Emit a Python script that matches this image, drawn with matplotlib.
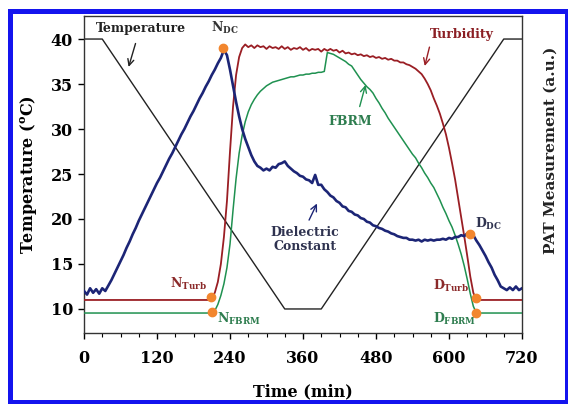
import numpy as np
import matplotlib
matplotlib.use("Agg")
import matplotlib.pyplot as plt
from matplotlib.patches import Rectangle

plt.rcParams['font.family'] = ['DejaVu Serif']
plt.rcParams['font.weight'] = 'bold'
plt.rcParams['mathtext.fontset'] = 'custom'
plt.rcParams['mathtext.bf'] = 'DejaVu Serif:bold'
plt.rcParams['mathtext.rm'] = 'DejaVu Serif:bold'
plt.rcParams['mathtext.it'] = 'DejaVu Serif:bold:italic'

# ---------------- data ----------------
temp_time = [0, 30, 330, 390, 690, 720]
temp_vals = [40, 40, 10, 10, 40, 40]

step = 5  # sampling step of the PAT signals (min)

dc_vals = [
    12.0, 11.6, 12.3, 11.8, 12.2, 11.7, 12.3, 12.0, 12.6, 13.2,
    13.9, 14.6, 15.3, 16.0, 16.8, 17.5, 18.3, 19.0, 19.8, 20.5,
    21.2, 21.9, 22.6, 23.3, 24.0, 24.6, 25.3, 26.0, 26.7, 27.3,
    28.0, 28.7, 29.4, 30.0, 30.7, 31.4, 32.0, 32.7, 33.4, 34.0,
    34.7, 35.3, 36.0, 36.6, 37.3, 37.9, 38.8, 38.2, 36.6, 34.8,
    33.0, 31.4, 30.0, 28.9, 28.0, 27.1, 26.4, 25.9, 25.7, 25.4,
    25.6, 25.4, 25.8, 25.7, 26.1, 26.2, 26.4, 25.9, 25.6, 25.3,
    25.1, 24.8, 24.7, 24.4, 24.3, 24.0, 24.9, 23.8, 23.8, 23.3,
    23.0, 22.6, 22.4, 22.0, 21.8, 21.4, 21.3, 20.9, 20.8, 20.5,
    20.4, 20.1, 20.0, 19.7, 19.6, 19.3, 19.2, 19.0, 18.9, 18.7,
    18.6, 18.4, 18.3, 18.1, 18.0, 17.9, 17.9, 17.7, 17.7, 17.6,
    17.7, 17.5, 17.7, 17.6, 17.7, 17.6, 17.7, 17.7, 17.8, 17.7,
    17.9, 17.8, 18.0, 18.0, 18.2, 18.1, 18.4, 18.3, 18.2, 17.6,
    17.1, 16.5, 15.9, 15.2, 14.6, 13.8, 13.2, 12.5, 12.3, 12.1,
    12.4, 12.1, 12.5, 12.1, 12.3,
]

turb_vals = [
    11.0, 11.0, 11.0, 11.0, 11.0, 11.0, 11.0, 11.0, 11.0, 11.0,
    11.0, 11.0, 11.0, 11.0, 11.0, 11.0, 11.0, 11.0, 11.0, 11.0,
    11.0, 11.0, 11.0, 11.0, 11.0, 11.0, 11.0, 11.0, 11.0, 11.0,
    11.0, 11.0, 11.0, 11.0, 11.0, 11.0, 11.0, 11.0, 11.0, 11.0,
    11.0, 11.0, 11.3, 11.8, 13.0, 15.0, 18.0, 22.0, 27.5, 32.5,
    36.0, 38.0, 39.0, 39.4, 39.1, 39.3, 39.0, 39.3, 39.1, 39.2,
    38.9, 39.2, 39.0, 39.1, 38.9, 39.2, 38.9, 39.1, 38.8, 39.0,
    38.9, 39.1, 38.8, 39.0, 38.7, 38.9, 38.8, 38.9, 38.6, 38.9,
    38.7, 38.9, 38.7, 38.8, 38.5, 38.7, 38.4, 38.5, 38.3, 38.4,
    38.2, 38.3, 38.1, 38.2, 38.0, 38.1, 37.9, 38.0, 37.8, 37.9,
    37.7, 37.8, 37.6, 37.6, 37.4, 37.4, 37.2, 37.1, 36.9, 36.7,
    36.4, 36.1, 35.6, 35.0, 34.3, 33.4, 32.6, 31.7, 30.6, 29.4,
    27.9, 26.2, 24.4, 22.3, 20.2, 18.1, 15.9, 13.6, 11.8, 11.0,
    11.0, 11.0, 11.0, 11.0, 11.0, 11.0, 11.0, 11.0, 11.0, 11.0,
    11.0, 11.0, 11.0, 11.0, 11.0,
]

fbrm_vals = [
    9.55, 9.55, 9.55, 9.55, 9.55, 9.55, 9.55, 9.55, 9.55, 9.55,
    9.55, 9.55, 9.55, 9.55, 9.55, 9.55, 9.55, 9.55, 9.55, 9.55,
    9.55, 9.55, 9.55, 9.55, 9.55, 9.55, 9.55, 9.55, 9.55, 9.55,
    9.55, 9.55, 9.55, 9.55, 9.55, 9.55, 9.55, 9.55, 9.55, 9.55,
    9.55, 9.55, 9.6, 9.8, 10.5, 11.5, 12.8, 14.6, 17.2, 21.0,
    24.5, 27.3, 29.3, 30.8, 31.9, 32.7, 33.3, 33.8, 34.2, 34.5,
    34.8, 35.0, 35.2, 35.3, 35.4, 35.5, 35.6, 35.7, 35.8, 35.8,
    35.9, 36.0, 36.0, 36.1, 36.1, 36.2, 36.2, 36.3, 36.3, 36.4,
    38.5, 38.4, 38.3, 38.1, 37.9, 37.7, 37.5, 37.2, 37.0, 36.5,
    36.0, 35.5, 35.1, 34.7, 34.4, 34.0, 33.4, 32.9, 32.3, 31.8,
    31.2, 30.7, 30.2, 29.7, 29.2, 28.7, 28.2, 27.7, 27.2, 26.8,
    26.2, 25.7, 25.1, 24.6, 24.0, 23.5, 22.8, 22.1, 21.3, 20.6,
    19.8, 19.1, 18.2, 17.2, 16.1, 14.8, 13.3, 11.7, 10.3, 9.55,
    9.55, 9.55, 9.55, 9.55, 9.55, 9.55, 9.55, 9.55, 9.55, 9.55,
    9.55, 9.55, 9.55, 9.55, 9.55,
]

event_labels = [r'N$_{\mathbf{DC}}$', r'N$_{\mathbf{Turb}}$', r'N$_{\mathbf{FBRM}}$',
                r'D$_{\mathbf{DC}}$', r'D$_{\mathbf{Turb}}$', r'D$_{\mathbf{FBRM}}$']
event_x = [229, 208, 211, 634, 644, 644]
event_y = [39.0, 11.3, 9.7, 18.3, 11.2, 9.55]

xticks = [0, 120, 240, 360, 480, 600, 720]
yticks = [10, 15, 20, 25, 30, 35, 40]

# ---------------- colours ----------------
c_temp = '#222222'
c_dc = '#1c2576'
c_turb = '#9a1e24'
c_fbrm = '#1f9150'
c_mark = '#f2862e'

W, H = 568, 404
fig = plt.figure(figsize=(W / 100, H / 100), dpi=100)
ax = fig.add_axes([84 / W, 1 - 333 / H, (522 - 84) / W, (333 - 16) / H])

t_dc = np.arange(len(dc_vals)) * step
t_turb = np.arange(len(turb_vals)) * step
t_fbrm = np.arange(len(fbrm_vals)) * step

ax.plot(temp_time, temp_vals, color=c_temp, lw=1.0, zorder=2)
ax.plot(t_fbrm, fbrm_vals, color=c_fbrm, lw=1.1, zorder=3)
ax.plot(t_turb, turb_vals, color=c_turb, lw=1.3, zorder=3)
ax.plot(t_dc, dc_vals, color=c_dc, lw=1.9, zorder=4)
ax.plot(event_x, event_y, 'o', color=c_mark, ms=6, mec=c_mark, zorder=6, ls='none')

ax.set_xlim(0, 720)
ax.set_ylim(7.33, 42.56)
ax.set_xticks(xticks)
ax.set_xticks(np.arange(0, 721, 30), minor=True)
ax.set_yticks(yticks)
ax.tick_params(axis='both', which='major', labelsize=11.5, direction='out', length=4, width=1)
ax.tick_params(axis='x', which='minor', direction='out', length=3, width=0.8)
for lab in ax.get_xticklabels() + ax.get_yticklabels():
    lab.set_fontweight('bold')
ax.tick_params(axis='y', pad=4)
ax.tick_params(axis='x', pad=8)
for s in ax.spines.values():
    s.set_linewidth(1.0)
    s.set_color('#333333')

ax.set_xlabel('Time (min)', fontsize=11.5, fontweight='bold', labelpad=12)
ax.set_ylabel(r'Temperature ($^{\mathbf{o}}$C)', fontsize=11.5, fontweight='bold', labelpad=8)
fig.text(551 / W, 1 - 150 / H, 'PAT Measurement (a.u.)', rotation=90, ha='center', va='center',
         fontsize=11, fontweight='bold', color='#222222')

# ---------------- annotations ----------------
fs = 9
arrow_kw = dict(arrowstyle='->,head_width=0.22,head_length=0.45', lw=1.0)
ax.text(93.7, 41.2, 'Temperature', ha='center', va='center', fontsize=fs, fontweight='bold', color='#222222')
ax.annotate('', xy=(72, 36.6), xytext=(86, 39.8), arrowprops=dict(color=c_temp, **arrow_kw))

ax.text(621, 40.55, 'Turbidity', ha='center', va='center', fontsize=fs, fontweight='bold', color='#8b1f24')
ax.annotate('', xy=(559, 36.7), xytext=(569, 39.4), arrowprops=dict(color=c_turb, **arrow_kw))

ax.text(437, 30.8, 'FBRM', ha='center', va='center', fontsize=fs, fontweight='bold', color='#2e7d4f')
ax.annotate('', xy=(464, 35.2), xytext=(452, 32.2), arrowprops=dict(color=c_fbrm, **arrow_kw))

ax.text(363, 17.7, 'Dielectric\nConstant', ha='center', va='center', fontsize=fs, fontweight='bold',
        color='#2f3350', linespacing=1.15)
ax.annotate('', xy=(385, 22.0), xytext=(368, 19.6), arrowprops=dict(color=c_dc, **arrow_kw))

ax.text(231.8, 41.2, event_labels[0], ha='center', va='center', fontsize=fs, color='#333333')
ax.text(172, 12.8, event_labels[1], ha='center', va='center', fontsize=fs, color='#8b2a2a')
ax.text(218, 8.9, event_labels[2], ha='left', va='center', fontsize=fs, color='#2e7d4f')
ax.text(643, 19.5, event_labels[3], ha='left', va='center', fontsize=fs, color='#2f3350')
ax.text(634, 12.6, event_labels[4], ha='right', va='center', fontsize=fs, color='#8b2a2a')
ax.text(644, 8.9, event_labels[5], ha='right', va='center', fontsize=fs, color='#2e7d4f')

# blue frame
fig.patches.append(Rectangle((10 / W, 1 - 402 / H), (566.5 - 10) / W, (402 - 10.5) / H,
                             transform=fig.transFigure, fill=False, edgecolor='#1414ee',
                             linewidth=3.6, zorder=10))

fig.savefig('out.png', dpi=100)
